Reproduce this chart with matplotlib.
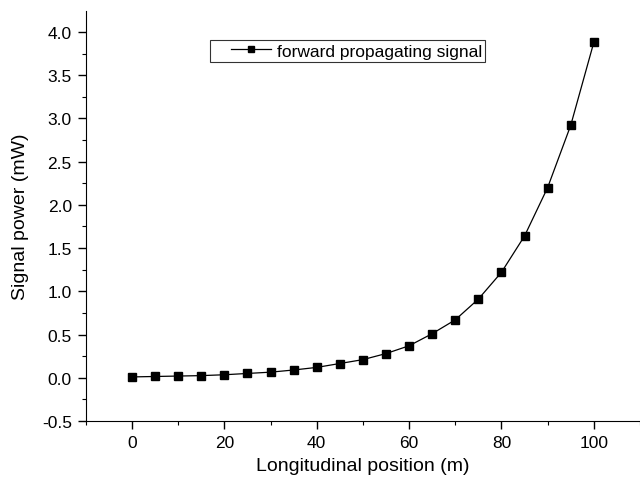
import numpy as np
import matplotlib.pyplot as plt
from matplotlib.ticker import MultipleLocator
from matplotlib.legend_handler import HandlerLine2D

plt.rcParams['font.family'] = ['Liberation Sans', 'DejaVu Sans']

# signal power along the fibre, sampled every 5 m
position = [0, 5, 10, 15, 20, 25, 30, 35, 40, 45, 50,
            55, 60, 65, 70, 75, 80, 85, 90, 95, 100]
power = [0.01, 0.015, 0.02, 0.025, 0.035, 0.05, 0.065, 0.09, 0.12, 0.165, 0.21,
         0.28, 0.37, 0.51, 0.67, 0.91, 1.22, 1.64, 2.20, 2.92, 3.88]

fig = plt.figure(figsize=(6.4, 4.89), dpi=100)
ax = fig.add_axes([0.134, 0.137, 0.866, 0.838])

line, = ax.plot(position, power, color='black', lw=0.9, marker='s', ms=6,
                label='forward propagating signal')

ax.set_xlim(-10, 110)
ax.set_ylim(-0.5, 4.24)
ax.xaxis.set_major_locator(MultipleLocator(20))
ax.xaxis.set_minor_locator(MultipleLocator(10))
ax.yaxis.set_minor_locator(MultipleLocator(0.25))
yt = np.arange(-0.5, 4.01, 0.5)
ax.set_yticks(yt)
ax.set_yticklabels(['%.1f' % v for v in yt])

ax.spines['top'].set_visible(False)
ax.spines['right'].set_visible(False)
ax.tick_params(which='major', direction='out', length=6, width=1,
               labelsize=12.5, pad=4)
ax.tick_params(which='minor', direction='out', length=3, width=0.8)

ax.set_xlabel('Longitudinal position (m)', fontsize=14, labelpad=5)
ax.set_ylabel('Signal power (mW)', fontsize=14, labelpad=9)

# pad the handle on the left so the frame has room before the line
leg = ax.legend(loc='upper left', bbox_to_anchor=(0.224, 0.93), borderaxespad=0,
                fontsize=12.5, frameon=True, fancybox=False, edgecolor='black',
                handlelength=3.3, handletextpad=0.35, borderpad=0.2,
                markerscale=0.7,
                handler_map={line: HandlerLine2D(numpoints=1, xpad=1.0)})
leg.get_frame().set_linewidth(0.8)

fig.savefig('out.png', dpi=100)
